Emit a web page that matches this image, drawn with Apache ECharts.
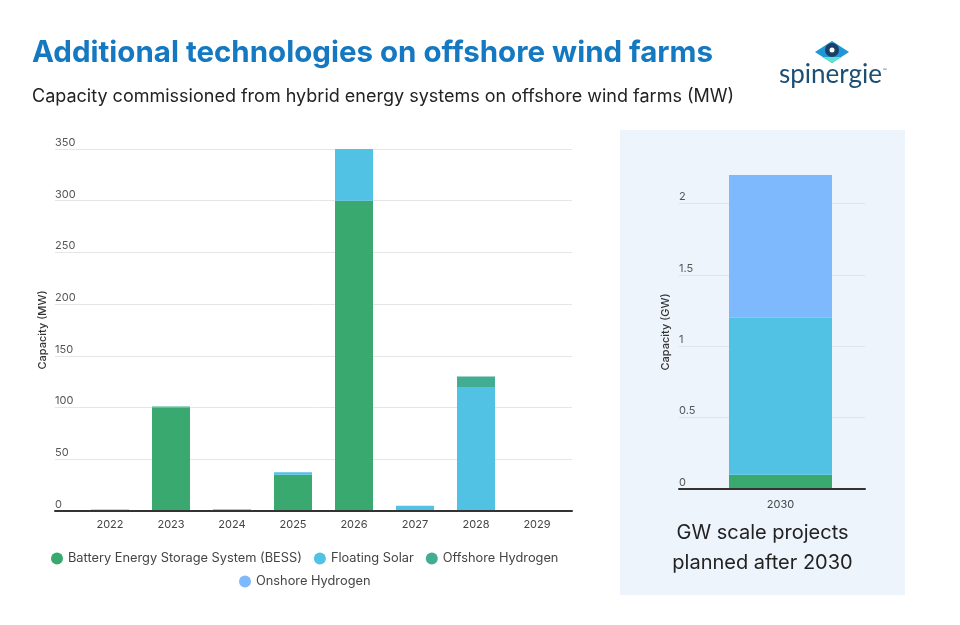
<!DOCTYPE html>
<html><head><meta charset="utf-8">
<script src="https://cdn.jsdelivr.net/npm/echarts@6/dist/echarts.min.js"></script>
<style>html,body{margin:0;padding:0;background:#fff}#c{width:960px;height:625px}</style>
</head><body><div id="c"></div>
<script>
// ---- data ----
const years = ['2022','2023','2024','2025','2026','2027','2028','2029'];
const bess = [0, 100, 1.5, 35, 300, 0, 0, 0];
const floatingSolar = [1.5, 0, 0, 2.5, 50, 5, 120, 0];
const offshoreHydrogen = [0, 1, 0, 0, 0, 0, 10, 0];

const laterCategory = ['2030'];
const laterBess = [0.1];
const laterFloatingSolar = [1.1];
const laterOnshoreHydrogen = [1.0];

const seriesNames = ['Battery Energy Storage System (BESS)', 'Floating Solar', 'Offshore Hydrogen', 'Onshore Hydrogen'];
const colors = { bess: '#3aa96f', fs: '#51c1e4', oh: '#43ad94', onh: '#7db9fc' };

const chart = echarts.init(document.getElementById('c'), null, { renderer: 'canvas' });

const axisBase = {
  type: 'category', axisTick: { show: false }, axisLabel: { show: false },
  axisLine: { show: true, lineStyle: { color: '#333', width: 2 } }, z: 5
};
const barX = {
  type: 'category', axisTick: { show: false }, axisLine: { show: false },
  axisLabel: { color: '#444', fontSize: 11, margin: 8 }
};
const nameStyle = { fontSize: 11, color: '#333', fontWeight: 500 };
const yLabel = { inside: true, margin: 0, verticalAlign: 'bottom', padding: [0, 0, 1, 0], color: '#555', fontSize: 11 };
const legendText = { fontSize: 12.8, color: '#444' };

const option = {
  animation: false,
  backgroundColor: '#fff',
  textStyle: { fontFamily: 'Inter' },
  title: [
    { text: 'Additional technologies on offshore wind farms', left: 27, top: 33,
      textStyle: { fontFamily: 'Inter', fontSize: 29.5, fontWeight: 'bold', color: '#1479c1' } },
    { text: 'Capacity commissioned from hybrid energy systems on offshore wind farms (MW)', left: 27, top: 83,
      textStyle: { fontFamily: 'Inter', fontSize: 18, fontWeight: 'normal', color: '#222' } }
  ],
  graphic: [
    { type: 'rect', z: -10, shape: { x: 620, y: 130, width: 285, height: 465 }, style: { fill: '#eef4fc' } },
    { type: 'text', x: 762.5, y: 533, style: { text: 'GW scale projects', textAlign: 'center', textVerticalAlign: 'middle', font: '20px Inter', fill: '#222' } },
    { type: 'text', x: 762.5, y: 563, style: { text: 'planned after 2030', textAlign: 'center', textVerticalAlign: 'middle', font: '20px Inter', fill: '#222' } },
    { type: 'polygon', shape: { points: [[815, 52], [832, 41], [849, 52], [832, 63]] }, style: { fill: '#1f96d6' } },
    { type: 'polygon', shape: { points: [[822, 57], [842, 57], [832, 63]] }, style: { fill: '#5ee2cb' } },
    { type: 'circle', shape: { cx: 832, cy: 50, r: 7 }, style: { fill: '#1b3f66' } },
    { type: 'circle', shape: { cx: 832, cy: 50, r: 2.5 }, style: { fill: '#ffffff' } },
    { type: 'text', x: 779, y: 75, style: { text: 'spinergie', textVerticalAlign: 'middle', font: '26px Lato', fill: '#1d4f75' } },
    { type: 'text', x: 883, y: 70, style: { text: '™', textVerticalAlign: 'middle', font: '5px Lato', fill: '#1d4f75' } }
  ],
  legend: [
    { data: seriesNames.slice(0, 3), left: 46, top: 547, icon: 'circle', itemWidth: 12, itemHeight: 12, itemGap: 12,
      selectedMode: false, textStyle: legendText },
    { data: seriesNames.slice(3), left: 234, top: 570, icon: 'circle', itemWidth: 12, itemHeight: 12, itemGap: 12,
      selectedMode: false, textStyle: legendText }
  ],
  grid: [
    { left: 55, right: 388, top: 149, bottom: 114 },
    { left: 79.5, right: 392.5, top: 149, bottom: 114 },
    { left: 679, right: 95, top: 175, bottom: 136 },
    { left: 696, right: 95, top: 175, bottom: 136 }
  ],
  xAxis: [
    Object.assign({ gridIndex: 0, data: [''] }, axisBase),
    Object.assign({ gridIndex: 1, data: years }, barX),
    Object.assign({ gridIndex: 2, data: [''] }, axisBase),
    Object.assign({ gridIndex: 3, data: laterCategory }, barX, { axisLabel: { color: '#444', fontSize: 11, margin: 10 } })
  ],
  yAxis: [
    { gridIndex: 0, type: 'value', min: 0, max: 350, interval: 50, name: 'Capacity (MW)', nameLocation: 'middle', nameGap: 7,
      nameMoveOverlap: false,
      nameTextStyle: nameStyle, axisLine: { show: false }, axisTick: { show: false }, axisLabel: yLabel,
      splitLine: { lineStyle: { color: '#e6e6e6' } } },
    { gridIndex: 1, type: 'value', min: 0, max: 350, show: false, splitLine: { show: false } },
    { gridIndex: 2, type: 'value', min: 0, max: 2.2, interval: 0.5, name: 'Capacity (GW)', nameLocation: 'middle', nameGap: 8,
      nameMoveOverlap: false,
      nameTextStyle: nameStyle, axisLine: { show: false }, axisTick: { show: false },
      axisLabel: Object.assign({ showMaxLabel: false }, yLabel),
      splitLine: { lineStyle: { color: ['#dfe4ea', '#dfe4ea', '#dfe4ea', '#dfe4ea', '#dfe4ea', 'rgba(0,0,0,0)'] } } },
    { gridIndex: 3, type: 'value', min: 0, max: 2.2, show: false, splitLine: { show: false } }
  ],
  series: [
    { name: seriesNames[0], type: 'bar', stack: 'a', xAxisIndex: 1, yAxisIndex: 1, barWidth: 38, data: bess, itemStyle: { color: colors.bess } },
    { name: seriesNames[1], type: 'bar', stack: 'a', xAxisIndex: 1, yAxisIndex: 1, barWidth: 38, data: floatingSolar, itemStyle: { color: colors.fs } },
    { name: seriesNames[2], type: 'bar', stack: 'a', xAxisIndex: 1, yAxisIndex: 1, barWidth: 38, data: offshoreHydrogen, itemStyle: { color: colors.oh } },
    { name: seriesNames[0], type: 'bar', stack: 'b', xAxisIndex: 3, yAxisIndex: 3, barWidth: 103, data: laterBess, itemStyle: { color: colors.bess } },
    { name: seriesNames[1], type: 'bar', stack: 'b', xAxisIndex: 3, yAxisIndex: 3, barWidth: 103, data: laterFloatingSolar, itemStyle: { color: colors.fs } },
    { name: seriesNames[3], type: 'bar', stack: 'b', xAxisIndex: 3, yAxisIndex: 3, barWidth: 103, data: laterOnshoreHydrogen, itemStyle: { color: colors.onh } }
  ]
};
chart.setOption(option);
</script>
</body></html>
